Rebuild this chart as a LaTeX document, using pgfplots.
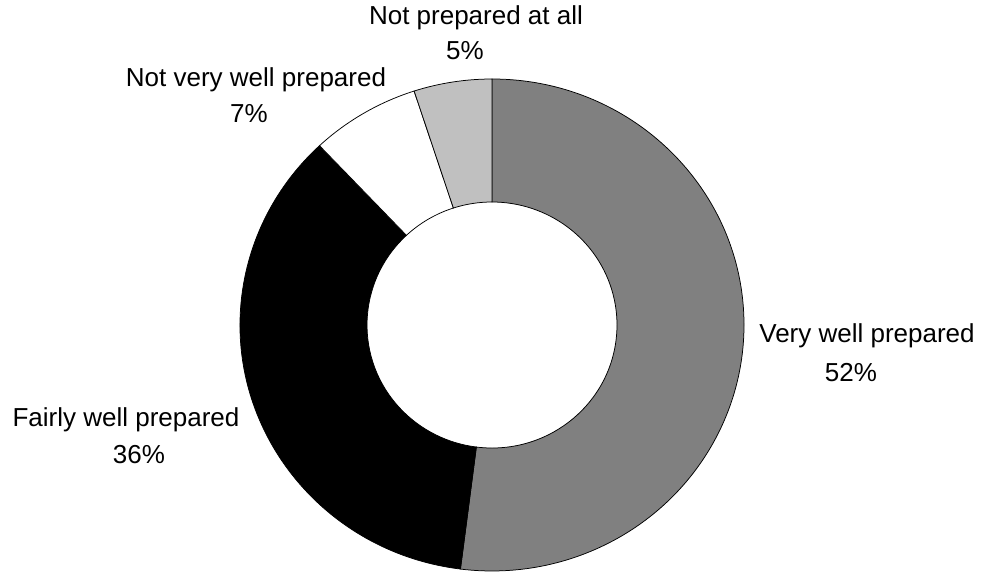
\documentclass[border=0pt]{standalone}
\usepackage{fontspec}
\setmainfont{Liberation Sans}
\usepackage{pgfplots}
\usepackage{pgfplotstable}
\pgfplotsset{compat=1.18}
\definecolor{sliceA}{HTML}{808080}
\definecolor{sliceB}{HTML}{000000}
\definecolor{sliceC}{HTML}{FFFFFF}
\definecolor{sliceD}{HTML}{C0C0C0}
\pgfplotstableread{
value col
52 sliceA
36 sliceB
7 sliceC
5 sliceD
}\piedata
\begin{document}
\begin{tikzpicture}[every node/.style={font=\fontsize{26bp}{30bp}\selectfont, inner sep=0pt}]
\begin{axis}[width=987bp,height=571bp,scale only axis,xmin=0,xmax=987,ymin=0,ymax=571,hide axis,clip=false]
\path (axis cs:0,0) rectangle (axis cs:987,571);
\pgfmathsetmacro{\startang}{90}
\pgfplotsforeachungrouped \i in {0,...,3}{%
  \pgfplotstablegetelem{\i}{value}\of\piedata \let\val\pgfplotsretval
  \pgfplotstablegetelem{\i}{col}\of\piedata \let\col\pgfplotsretval
  \pgfmathsetmacro{\endang}{\startang-3.6*\val}%
  \edef\temp{\noexpand\filldraw[fill=\col,draw=black,line width=0.75bp,shift={(axis cs:492,246)}] (\startang:252bp and 246bp) arc[start angle=\startang,end angle=\endang,x radius=252bp,y radius=246bp] -- (\endang:125bp and 123bp) arc[start angle=\endang,end angle=\startang,x radius=125bp,y radius=123bp] -- cycle;}%
  \temp
  \global\let\startang\endang
}
\node[anchor=base] at (axis cs:867,228) {Very well prepared};
\node[anchor=base] at (axis cs:851,190) {52\%};
\node[anchor=base] at (axis cs:126,145) {Fairly well prepared};
\node[anchor=base] at (axis cs:139,108) {36\%};
\node[anchor=base] at (axis cs:256,484) {Not very well prepared};
\node[anchor=base] at (axis cs:249,448) {7\%};
\node[anchor=base] at (axis cs:476,546) {Not prepared at all};
\node[anchor=base] at (axis cs:465,511) {5\%};
\end{axis}
\end{tikzpicture}
\end{document}
